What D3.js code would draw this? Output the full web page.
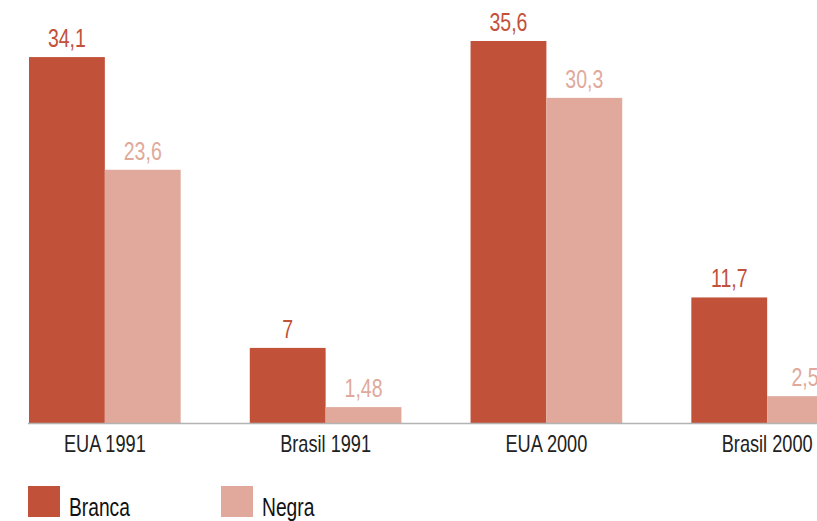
<!DOCTYPE html>
<html>
<head>
<meta charset="utf-8">
<script src="https://cdn.jsdelivr.net/npm/d3@7"></script>
<style>
  html, body { margin: 0; padding: 0; background: #fff; overflow: hidden; }
  svg { display: block; }
  text { font-family: "Liberation Sans", Arial, sans-serif; }
</style>
</head>
<body>
<svg id="chart" width="817" height="521"></svg>
<script>
const categories = ["EUA 1991", "Brasil 1991", "EUA 2000", "Brasil 2000"];
const seriesNames = ["Branca", "Negra"];
const branca = [34.1, 7, 35.6, 11.7];
const negra = [23.6, 1.48, 30.3, 2.5];
const brancaLabels = ["34,1", "7", "35,6", "11,7"];
const negraLabels = ["23,6", "1,48", "30,3", "2,5"];
const colors = ["#c25139", "#e0a99b"];

const svg = d3.select("#chart");
const baseY = 423;
const condense = 0.75;

const x0 = d3.scaleBand().domain(categories).range([29, 843]).paddingInner(0.313).paddingOuter(0);
const x1 = d3.scaleBand().domain(seriesNames).range([0, x0.bandwidth()]).padding(0);
const y = d3.scaleLinear().domain([0, 35.6]).range([baseY, 41]);

const rows = categories.map((c, i) => ({
  cat: c,
  vals: [
    {s: "Branca", v: branca[i], label: brancaLabels[i], color: colors[0]},
    {s: "Negra", v: negra[i], label: negraLabels[i], color: colors[1]}
  ]
}));

const g = svg.selectAll("g.grp").data(rows).enter().append("g")
  .attr("class", "grp")
  .attr("transform", d => `translate(${x0(d.cat)},0)`);

g.selectAll("rect").data(d => d.vals).enter().append("rect")
  .attr("x", d => x1(d.s))
  .attr("y", d => y(d.v))
  .attr("width", x1.bandwidth())
  .attr("height", d => baseY - y(d.v))
  .attr("fill", d => d.color);

g.selectAll("text.val").data(d => d.vals).enter().append("text")
  .attr("class", "val")
  .attr("transform", d => `translate(${x1(d.s) + x1.bandwidth() / 2},${y(d.v) - 10}) scale(${condense},1)`)
  .attr("text-anchor", "middle")
  .attr("font-size", 26)
  .attr("fill", d => d.color)
  .text(d => d.label);

// category axis
const axis = d3.axisBottom(x0).tickSize(0).tickPadding(0);
const ax = svg.append("g").attr("transform", `translate(0,${baseY})`).call(axis);
ax.select(".domain").remove();
ax.selectAll("text")
  .attr("font-size", 23)
  .attr("fill", "#222")
  .attr("dy", null)
  .attr("y", 0)
  .attr("transform", `translate(0,29) scale(0.79,1)`)
  .style("font-family", "'Liberation Sans', Arial, sans-serif");
svg.append("line")
  .attr("x1", 28).attr("x2", 817)
  .attr("y1", baseY + 0.5).attr("y2", baseY + 0.5)
  .attr("stroke", "#b3b3b3").attr("stroke-width", 1.5);

// legend
const legendX = [28, 221];
const leg = svg.selectAll("g.leg").data(seriesNames).enter().append("g")
  .attr("class", "leg")
  .attr("transform", (d, i) => `translate(${legendX[i]},486)`);
leg.append("rect").attr("width", 32).attr("height", 31).attr("fill", (d, i) => colors[i]);
leg.append("text")
  .attr("transform", `translate(41,30) scale(0.74,1)`)
  .attr("font-size", 26)
  .attr("fill", "#111")
  .text(d => d);
</script>
</body>
</html>
